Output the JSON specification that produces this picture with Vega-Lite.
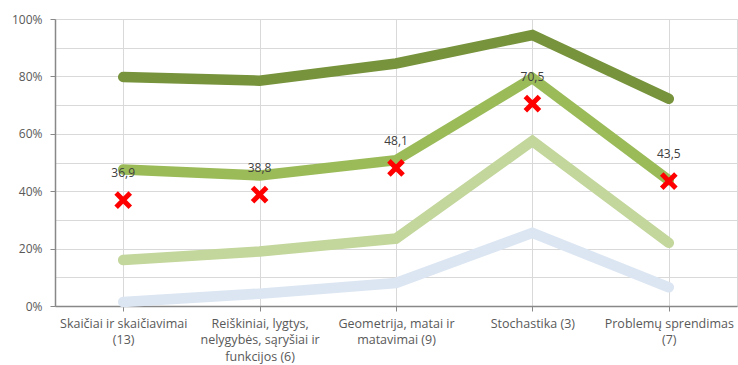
{
  "$schema": "https://vega.github.io/schema/vega-lite/v6.json",
  "width": 682,
  "height": 287,
  "autosize": {"type": "none"},
  "padding": {"left": 55, "top": 19, "right": 1, "bottom": 59},
  "background": "white",
  "config": {
    "view": {"stroke": "#d9d9d9"},
    "font": "Open Sans"
  },
  "datasets": {
    "lines": [
      {"cat": "Skaičiai ir skaičiavimai (13)", "series": "A", "value": 79.8},
      {"cat": "Reiškiniai, lygtys, nelygybės, sąryšiai ir funkcijos (6)", "series": "A", "value": 78.5},
      {"cat": "Geometrija, matai ir matavimai (9)", "series": "A", "value": 84.5},
      {"cat": "Stochastika (3)", "series": "A", "value": 94.4},
      {"cat": "Problemų sprendimas (7)", "series": "A", "value": 72.2},
      {"cat": "Skaičiai ir skaičiavimai (13)", "series": "B", "value": 47.6},
      {"cat": "Reiškiniai, lygtys, nelygybės, sąryšiai ir funkcijos (6)", "series": "B", "value": 45.5},
      {"cat": "Geometrija, matai ir matavimai (9)", "series": "B", "value": 50.8},
      {"cat": "Stochastika (3)", "series": "B", "value": 79.4},
      {"cat": "Problemų sprendimas (7)", "series": "B", "value": 43.8},
      {"cat": "Skaičiai ir skaičiavimai (13)", "series": "C", "value": 16.0},
      {"cat": "Reiškiniai, lygtys, nelygybės, sąryšiai ir funkcijos (6)", "series": "C", "value": 19.0},
      {"cat": "Geometrija, matai ir matavimai (9)", "series": "C", "value": 23.5},
      {"cat": "Stochastika (3)", "series": "C", "value": 57.5},
      {"cat": "Problemų sprendimas (7)", "series": "C", "value": 22.0},
      {"cat": "Skaičiai ir skaičiavimai (13)", "series": "D", "value": 1.4},
      {"cat": "Reiškiniai, lygtys, nelygybės, sąryšiai ir funkcijos (6)", "series": "D", "value": 4.3},
      {"cat": "Geometrija, matai ir matavimai (9)", "series": "D", "value": 8.0},
      {"cat": "Stochastika (3)", "series": "D", "value": 25.5},
      {"cat": "Problemų sprendimas (7)", "series": "D", "value": 6.5}
    ],
    "marks": [
      {"cat": "Skaičiai ir skaičiavimai (13)", "value": 36.9, "label": "36,9"},
      {"cat": "Reiškiniai, lygtys, nelygybės, sąryšiai ir funkcijos (6)", "value": 38.8, "label": "38,8"},
      {"cat": "Geometrija, matai ir matavimai (9)", "value": 48.1, "label": "48,1"},
      {"cat": "Stochastika (3)", "value": 70.5, "label": "70,5"},
      {"cat": "Problemų sprendimas (7)", "value": 43.5, "label": "43,5"}
    ]
  },
  "encoding": {
    "x": {
      "field": "cat",
      "type": "nominal",
      "sort": null,
      "title": null,
      "scale": {"domain": [
        "Skaičiai ir skaičiavimai (13)",
        "Reiškiniai, lygtys, nelygybės, sąryšiai ir funkcijos (6)",
        "Geometrija, matai ir matavimai (9)",
        "Stochastika (3)",
        "Problemų sprendimas (7)"
      ]},
      "axis": {
        "labelAngle": 0,
        "labelAlign": "center",
        "labelBaseline": "top",
        "labelFontSize": 12.5,
        "labelColor": "#595959",
        "labelPadding": 6,
        "labelLineHeight": 16.5,
        "labelLimit": 200,
        "bandPosition": 0,
        "grid": true,
        "gridColor": "#d9d9d9",
        "domainColor": "#888888",
        "domainWidth": 1.5,
        "tickColor": "#888888",
        "tickSize": 5,
        "labelExpr": "datum.value == 'Skaičiai ir skaičiavimai (13)' ? ['Skaičiai ir skaičiavimai', '(13)'] : datum.value == 'Reiškiniai, lygtys, nelygybės, sąryšiai ir funkcijos (6)' ? ['Reiškiniai, lygtys,', 'nelygybės, sąryšiai ir', 'funkcijos (6)'] : datum.value == 'Geometrija, matai ir matavimai (9)' ? ['Geometrija, matai ir', 'matavimai (9)'] : datum.value == 'Problemų sprendimas (7)' ? ['Problemų sprendimas', '(7)'] : datum.value"
      }
    },
    "y": {
      "field": "value",
      "type": "quantitative",
      "title": null,
      "scale": {"domain": [0, 100], "nice": false},
      "axis": {
        "values": [0, 10, 20, 30, 40, 50, 60, 70, 80, 90, 100],
        "labelExpr": "datum.value % 20 == 0 ? datum.value + '%' : ''",
        "labelFontSize": 12,
        "labelColor": "#595959",
        "labelPadding": 8,
        "gridColor": "#d9d9d9",
        "domainColor": "#888888",
        "domainWidth": 1.5,
        "tickColor": "#888888",
        "tickSize": 5,
        "tickOpacity": {"condition": {"test": "datum.value % 20 == 0", "value": 1}, "value": 0}
      }
    }
  },
  "layer": [
    {
      "data": {"name": "lines"},
      "mark": {"type": "line", "strokeWidth": 10.5, "strokeCap": "round", "strokeJoin": "miter"},
      "encoding": {
        "color": {
          "field": "series",
          "type": "nominal",
          "legend": null,
          "scale": {"domain": ["A", "B", "C", "D"], "range": ["#77933C", "#9BBB59", "#C3D69B", "#DCE6F2"]}
        },
        "order": {"field": "series", "sort": "descending"}
      }
    },
    {
      "data": {"name": "marks"},
      "mark": {"type": "point", "shape": "M-1,-1L1,1M1,-1L-1,1", "filled": false, "stroke": "#FF0000", "strokeWidth": 5, "size": 200, "opacity": 1}
    },
    {
      "data": {"name": "marks"},
      "mark": {"type": "text", "dy": -27, "fontSize": 12, "color": "#404040"},
      "encoding": {"text": {"field": "label"}}
    }
  ]
}
